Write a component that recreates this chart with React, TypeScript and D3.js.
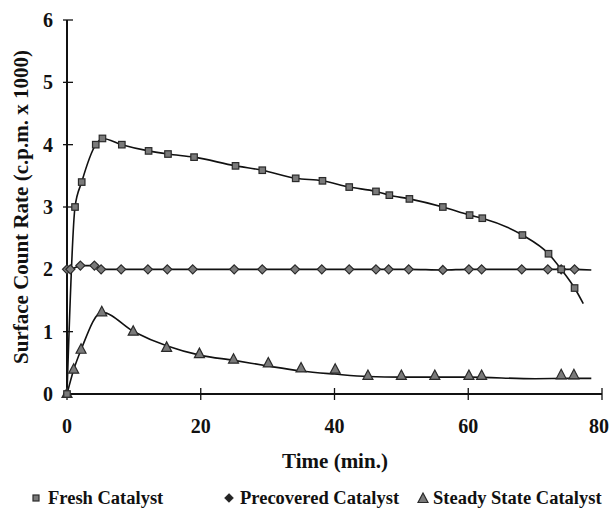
import React from 'react';
import * as d3 from 'd3';

// Fresh catalyst (squares)
const freshTime = [0, 1.2, 2.2, 4.3, 5.3, 8.2, 12.2, 15.1, 19.0, 25.2, 29.2, 34.2, 38.2, 42.2, 46.2, 48.2, 51.2, 56.2, 60.2, 62.1, 68.1, 72.0, 73.9, 75.9];
const freshRate = [0, 3.0, 3.4, 4.0, 4.1, 4.0, 3.9, 3.85, 3.8, 3.66, 3.59, 3.46, 3.42, 3.32, 3.25, 3.19, 3.13, 3.0, 2.87, 2.82, 2.55, 2.25, 2.0, 1.7];
// the drawn line runs on a little past the last marker
const freshTailTime = [77.2];
const freshTailRate = [1.45];

// Precovered catalyst (diamonds)
const preTime = [0, 0.5, 2.0, 4.1, 5.1, 8.1, 12.1, 15.0, 18.8, 25.0, 29.2, 34.1, 38.1, 42.2, 46.2, 48.1, 51.1, 56.2, 60.1, 62.0, 68.0, 71.9, 73.9, 75.9];
const preRate = [2.0, 2.0, 2.06, 2.06, 2.0, 2.0, 2.0, 2.0, 2.0, 2.0, 2.0, 2.0, 2.0, 2.0, 2.0, 2.0, 2.0, 1.99, 2.0, 2.0, 2.0, 2.0, 2.0, 2.0];
const preTailTime = [78.4];
const preTailRate = [1.99];

// Steady state catalyst (triangles)
const steadyTime = [0, 1.0, 2.1, 5.2, 9.9, 14.9, 19.8, 24.9, 30.1, 35.0, 40.1, 45.0, 50.0, 55.0, 60.1, 62.0, 73.9, 75.8];
const steadyRate = [0, 0.39, 0.71, 1.31, 1.0, 0.74, 0.64, 0.55, 0.49, 0.41, 0.39, 0.29, 0.29, 0.29, 0.29, 0.29, 0.3, 0.3];
// smoothed line through the steady state points
const steadyFitTime = [0, 1.0, 2.1, 5.2, 10, 15, 20, 25, 30, 35, 40, 45, 50, 60, 70, 75, 78.4];
const steadyFitRate = [0, 0.39, 0.71, 1.31, 1.0, 0.77, 0.62, 0.54, 0.45, 0.37, 0.32, 0.28, 0.27, 0.27, 0.245, 0.25, 0.25];

const xTicks = [0, 20, 40, 60, 80];
const yTicks = [0, 1, 2, 3, 4, 5, 6];
const legendLabels = ['Fresh Catalyst', 'Precovered Catalyst', 'Steady State Catalyst'];

const W = 613;
const H = 508;
const FONT = "'Liberation Serif', 'Times New Roman', 'DejaVu Serif', serif";

const zip = (t: number[], v: number[]) => t.map((d, i) => [d, v[i]] as [number, number]);

const App = () => {
    const x = d3.scaleLinear().domain([0, 80]).range([67, 602]);
    const y = d3.scaleLinear().domain([0, 6]).range([394, 20]);

    const line = d3.line<[number, number]>()
        .x(d => x(d[0]))
        .y(d => y(d[1]))
        .curve(d3.curveMonotoneX);

    const freshLine = zip(freshTime.concat(freshTailTime), freshRate.concat(freshTailRate));
    const preLine = zip(preTime.concat(preTailTime), preRate.concat(preTailRate));
    const steadyLine = zip(steadyFitTime, steadyFitRate);

    const markFill = '#7a7a7a';
    const markStroke = '#2a2a2a';

    const square = (cx: number, cy: number, s: number, key: any) => (
        <rect key={key} x={cx - s / 2} y={cy - s / 2} width={s} height={s}
            fill={markFill} stroke={markStroke} strokeWidth={1.2} />
    );
    const diamond = (cx: number, cy: number, r: number, key: any, fill = markFill) => (
        <path key={key} d={`M${cx},${cy - r}L${cx + r},${cy}L${cx},${cy + r}L${cx - r},${cy}Z`}
            fill={fill} stroke={markStroke} strokeWidth={1.2} />
    );
    const triangle = (cx: number, cy: number, s: number, key: any) => (
        <path key={key} d={`M${cx},${cy - s * 0.6}L${cx + s / 2},${cy + s * 0.35}L${cx - s / 2},${cy + s * 0.35}Z`}
            fill={markFill} stroke={markStroke} strokeWidth={1.2} />
    );

    return (
        <svg width={W} height={H}
            style={{ position: 'absolute', left: 0, top: 0, background: '#fff', fontFamily: FONT, fontWeight: 'bold' }}>
            {/* axes */}
            <line x1={x(0)} x2={x(0)} y1={y(6)} y2={y(0)} stroke="#111" strokeWidth={2} />
            <line x1={x(0)} x2={x(80)} y1={y(0)} y2={y(0)} stroke="#111" strokeWidth={2} />
            {yTicks.map(t => (
                <g key={'yt' + t}>
                    <line x1={x(0) - 4} x2={x(0) + 6} y1={y(t)} y2={y(t)} stroke="#111" strokeWidth={1.3} />
                    <text x={53} y={y(t) + 7} textAnchor="end" fontSize={20} fill="#111">{t}</text>
                </g>
            ))}
            {xTicks.map(t => (
                <g key={'xt' + t}>
                    <line x1={x(t)} x2={x(t)} y1={y(0) - 6} y2={y(0) + 6} stroke="#111" strokeWidth={1.3} />
                    <text x={t === 80 ? x(t) - 3 : x(t)} y={433} textAnchor="middle" fontSize={20} fill="#111">{t}</text>
                </g>
            ))}
            <text x={335} y={468} textAnchor="middle" fontSize={21} fill="#111">Time (min.)</text>
            <text transform={`translate(28,207) rotate(-90)`} textAnchor="middle" fontSize={21} fill="#111">
                Surface Count Rate (c.p.m. x 1000)
            </text>

            {/* lines */}
            <path d={line(steadyLine) || ''} fill="none" stroke="#111" strokeWidth={1.6} />
            <path d={line(preLine) || ''} fill="none" stroke="#111" strokeWidth={1.6} />
            <path d={line(freshLine) || ''} fill="none" stroke="#111" strokeWidth={1.6} />

            {/* markers */}
            {steadyTime.map((t, i) => triangle(x(t), y(steadyRate[i]), 10, 'st' + i))}
            {preTime.map((t, i) => diamond(x(t), y(preRate[i]), 4.5, 'pr' + i))}
            {freshTime.map((t, i) => square(x(t), y(freshRate[i]), 6.5, 'fr' + i))}

            {/* legend */}
            {square(36, 498, 6, 'lg0')}
            <text x={48} y={504} fontSize={18.5} fill="#111">{legendLabels[0]}</text>
            {diamond(229, 498, 4, 'lg1', '#222')}
            <text x={240} y={504} fontSize={18.5} fill="#111">{legendLabels[1]}</text>
            {triangle(423, 499, 10, 'lg2')}
            <text x={433} y={504} fontSize={18.5} fill="#111">{legendLabels[2]}</text>
        </svg>
    );
};

export default App;
